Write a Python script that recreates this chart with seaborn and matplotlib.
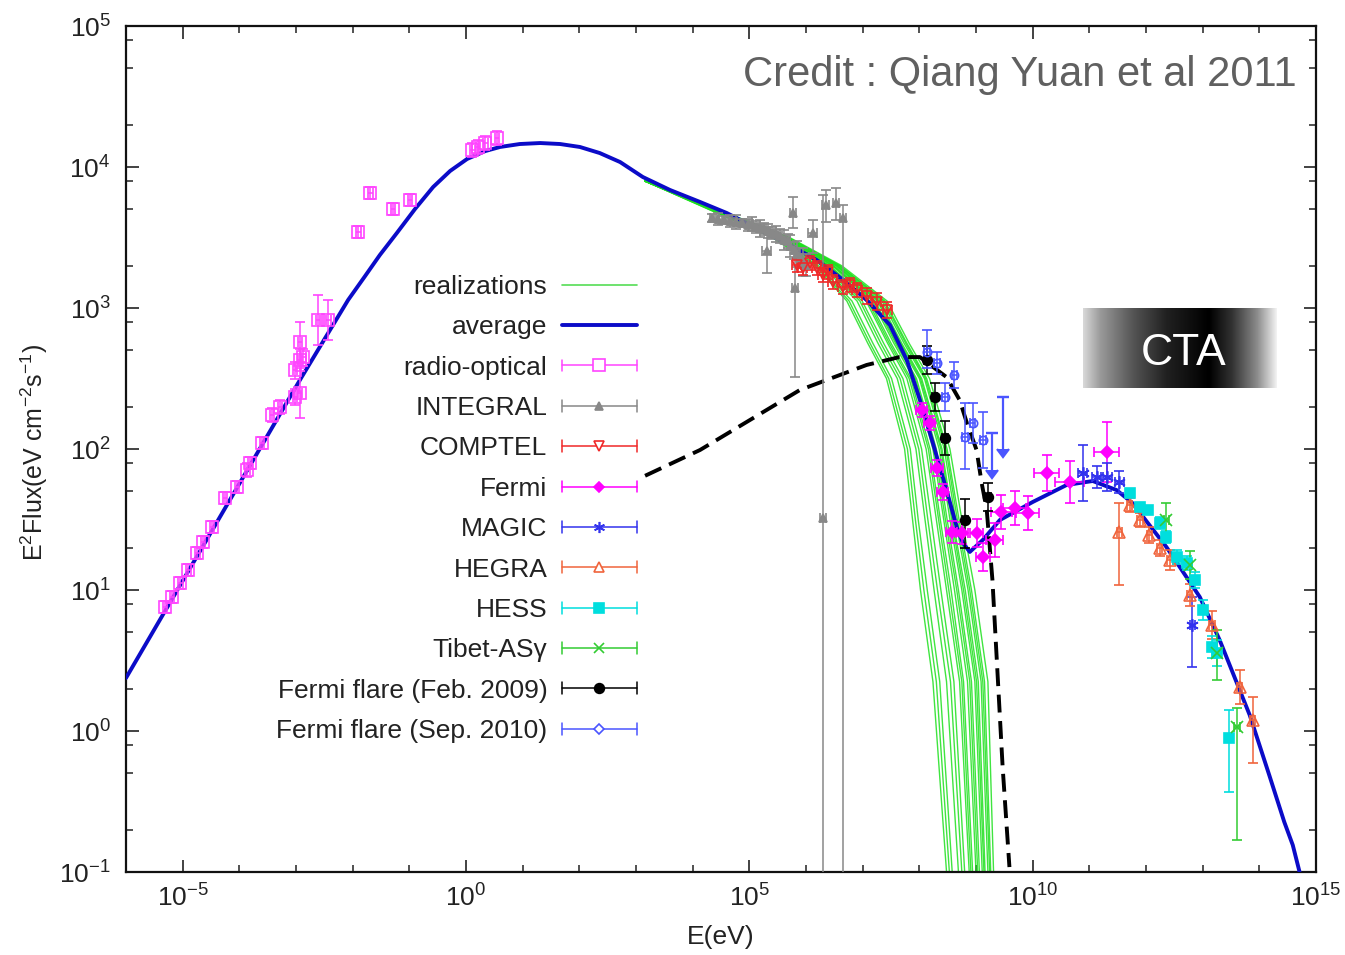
import numpy as np
import pandas as pd
import matplotlib
matplotlib.use('Agg')
import matplotlib.pyplot as plt
import seaborn as sns
from matplotlib.lines import Line2D
from matplotlib.legend_handler import HandlerBase
from matplotlib.ticker import FixedLocator, LogFormatterMathtext, NullFormatter

# all values are log10 E [eV] and log10 E^2 Flux [eV cm^-2 s^-1]

# average model
avg_logE = [-6.0, -4.99, -2.93, -2.40, -2.08, -1.78, -1.52, -1.22, -0.90, -0.58, -0.28, 0.02, 0.34,
            0.60, 0.95, 1.31, 1.66, 2.01, 2.36, 2.72, 3.12, 3.60, 4.13, 4.60, 5.19, 5.71, 6.19, 6.68,
            7.07, 7.48, 7.78, 8.01, 8.24, 8.48, 8.66, 8.77, 8.89, 9.12, 9.42, 10.0, 10.6, 11.06,
            11.48, 11.76, 12.36, 12.95, 13.30, 13.83, 14.18, 14.44, 14.59, 14.71]
avg_logF = [0.376, 1.072, 2.49, 2.844, 3.057, 3.227, 3.376, 3.532, 3.702, 3.858, 3.972, 4.057, 4.113,
            4.142, 4.163, 4.17, 4.163, 4.142, 4.099, 4.035, 3.929, 3.837, 3.752, 3.674, 3.553, 3.447,
            3.34, 3.191, 3.057, 2.88, 2.63, 2.348, 2.04, 1.709, 1.447, 1.333, 1.27, 1.355, 1.496,
            1.624, 1.745, 1.773, 1.709, 1.617, 1.305, 0.95, 0.645, 0.113, -0.319, -0.645, -0.809, -1.0]

# black dashed curve
dash_logE = [3.16, 4.13, 5.89, 7.07, 7.65, 8.01, 8.48, 8.71, 8.84, 9.01, 9.10, 9.19, 9.24, 9.29, 9.37, 9.47, 9.59]
dash_logF = [1.81, 1.993, 2.418, 2.596, 2.652, 2.652, 2.51, 2.348, 2.184, 1.993, 1.759, 1.567, 1.319,
             1.071, 0.482, -0.255, -0.965]

# realizations: log E of each run at fixed flux levels
real_level_logF = [3.9, 3.5, 3.3, 3.05, 2.75, 2.5, 2.0, 1.5, 1.0, 0.35, -1.0]
real_logE = [
    [3.16, 5.40, 6.16, 6.72, 7.09, 7.42, 7.74, 7.88, 8.02, 8.24, 8.48],
    [3.16, 5.42, 6.19, 6.76, 7.13, 7.46, 7.79, 7.93, 8.08, 8.30, 8.53],
    [3.16, 5.44, 6.22, 6.81, 7.18, 7.51, 7.84, 7.98, 8.14, 8.36, 8.58],
    [3.16, 5.48, 6.28, 6.90, 7.27, 7.61, 7.94, 8.10, 8.26, 8.48, 8.69],
    [3.16, 5.50, 6.31, 6.95, 7.32, 7.66, 7.99, 8.15, 8.32, 8.55, 8.75],
    [3.16, 5.52, 6.34, 6.99, 7.37, 7.71, 8.04, 8.21, 8.38, 8.61, 8.80],
    [3.16, 5.55, 6.39, 7.06, 7.44, 7.78, 8.12, 8.30, 8.48, 8.71, 8.88],
    [3.16, 5.56, 6.41, 7.09, 7.47, 7.82, 8.16, 8.34, 8.52, 8.75, 8.91],
    [3.16, 5.57, 6.42, 7.12, 7.50, 7.85, 8.19, 8.37, 8.56, 8.78, 8.94],
    [3.16, 5.60, 6.46, 7.17, 7.55, 7.90, 8.24, 8.43, 8.62, 8.85, 9.00],
    [3.16, 5.61, 6.48, 7.20, 7.58, 7.93, 8.27, 8.46, 8.66, 8.89, 9.03],
    [3.16, 5.62, 6.49, 7.22, 7.60, 7.95, 8.30, 8.49, 8.69, 8.92, 9.06],
    [3.16, 5.64, 6.52, 7.26, 7.64, 8.00, 8.35, 8.54, 8.75, 8.98, 9.11],
    [3.16, 5.65, 6.54, 7.28, 7.67, 8.02, 8.38, 8.57, 8.78, 9.01, 9.14],
    [3.16, 5.65, 6.55, 7.30, 7.69, 8.04, 8.40, 8.59, 8.81, 9.04, 9.16],
    [3.16, 5.67, 6.57, 7.34, 7.73, 8.09, 8.44, 8.64, 8.86, 9.09, 9.21],
    [3.16, 5.68, 6.59, 7.37, 7.76, 8.11, 8.47, 8.67, 8.89, 9.12, 9.24],
    [3.16, 5.69, 6.60, 7.39, 7.78, 8.13, 8.49, 8.70, 8.92, 9.15, 9.26],
    [3.16, 5.71, 6.63, 7.43, 7.82, 8.18, 8.54, 8.75, 8.98, 9.21, 9.31],
]

# radio-optical
radio_logE = [-5.31, -5.19, -5.04, -4.90, -4.74, -4.64, -4.48, -4.25, -4.04, -3.86, -3.81, -3.60, -3.42,
              -3.28, -3.02, -2.93, -3.02, -2.93, -2.87, -2.93, -2.61, -2.43, -1.90, -1.69, -1.29, -0.99,
              0.11, 0.21, 0.34, 0.55]
radio_logF = [0.879, 0.950, 1.050, 1.142, 1.262, 1.340, 1.447, 1.652, 1.730, 1.851, 1.901, 2.043, 2.241,
              2.298, 2.369, 2.397, 2.560, 2.631, 2.652, 2.759, 2.915, 2.915, 3.539, 3.816, 3.702, 3.766,
              4.121, 4.142, 4.170, 4.206]
radio_err = [0.04, 0.04, 0.04, 0.04, 0.04, 0.04, 0.04, 0.04, 0.04, 0.05, 0.04, 0.04, 0.05,
             0.05, 0.06, 0.18, 0.06, 0.08, 0.06, 0.14, 0.18, 0.14, 0.04, 0.04, 0.04, 0.04,
             0.05, 0.05, 0.05, 0.05]
radio_xerr = [0.04, 0.04, 0.04, 0.04, 0.04, 0.04, 0.04, 0.04, 0.04, 0.04, 0.04, 0.04, 0.04,
              0.04, 0.04, 0.04, 0.04, 0.04, 0.04, 0.04, 0.04, 0.04, 0.04, 0.04, 0.04, 0.04,
              0.04, 0.04, 0.04, 0.04]

# INTEGRAL
integral_logE = [4.34, 4.44, 4.55, 4.66, 4.76, 4.87, 4.97, 5.04, 5.12, 5.19, 5.26, 5.33, 5.40, 5.47,
                 5.54, 5.61, 5.68, 5.71, 5.79, 5.84, 5.89, 5.94, 6.00,
                 5.31, 5.77, 5.80, 6.12, 6.35, 6.53, 6.65, 6.30]
integral_logF = [3.638, 3.631, 3.624, 3.617, 3.610, 3.603, 3.589, 3.596, 3.574, 3.567, 3.560, 3.546,
                 3.532, 3.525, 3.511, 3.482, 3.475, 3.440, 3.411, 3.383, 3.355, 3.326, 3.305,
                 3.404, 3.674, 3.142, 3.532, 3.73, 3.745, 3.638, 1.511]
integral_lo = [0.03, 0.04, 0.03, 0.04, 0.05, 0.03, 0.04, 0.05, 0.04, 0.06, 0.04, 0.05, 0.04, 0.06,
               0.05, 0.07, 0.05, 0.08, 0.06, 0.09, 0.07, 0.10, 0.08,
               0.156, 0.107, 0.631, 0.142, 0.12, 0.121, 5.0, 4.0]
integral_hi = [0.03, 0.04, 0.03, 0.04, 0.05, 0.03, 0.04, 0.05, 0.04, 0.06, 0.04, 0.05, 0.04, 0.06,
               0.05, 0.07, 0.05, 0.08, 0.06, 0.09, 0.07, 0.10, 0.08,
               0.149, 0.113, 0.269, 0.092, 0.107, 0.106, 0.092, 2.29]
integral_xerr = [0.03, 0.03, 0.03, 0.03, 0.03, 0.03, 0.03, 0.03, 0.03, 0.03, 0.03, 0.03, 0.03, 0.03,
                 0.03, 0.03, 0.03, 0.03, 0.03, 0.03, 0.03, 0.03, 0.03,
                 0.08, 0.06, 0.05, 0.08, 0.06, 0.06, 0.05, 0.05]

# COMPTEL
comptel_logE = [5.84, 5.94, 6.07, 6.19, 6.30, 6.38, 6.47, 6.65, 6.77, 6.90, 7.07, 7.25, 7.43]
comptel_logF = [3.305, 3.284, 3.319, 3.284, 3.234, 3.255, 3.184, 3.149, 3.163, 3.128, 3.085, 3.043, 2.986]
comptel_err = [0.05, 0.05, 0.05, 0.05, 0.05, 0.05, 0.05, 0.05, 0.05, 0.05, 0.06, 0.06, 0.06]
comptel_xerr = [0.08, 0.08, 0.08, 0.08, 0.08, 0.08, 0.08, 0.08, 0.08, 0.08, 0.08, 0.08, 0.08]

# Fermi
fermi_logE = [8.04, 8.18, 8.31, 8.41, 8.57, 8.75, 9.01, 9.12, 9.33, 9.45, 9.68, 9.91, 10.25, 10.65, 11.31]
fermi_logF = [2.277, 2.184, 1.865, 1.695, 1.411, 1.404, 1.404, 1.234, 1.355, 1.553, 1.582, 1.546, 1.83,
              1.766, 1.979]
fermi_err = [0.05, 0.05, 0.06, 0.06, 0.08, 0.08, 0.10, 0.10, 0.12, 0.12, 0.12, 0.12, 0.13, 0.15, 0.21]
fermi_xerr = [0.1, 0.1, 0.1, 0.1, 0.1, 0.1, 0.12, 0.12, 0.15, 0.18, 0.2, 0.2, 0.22, 0.25, 0.22]

# MAGIC
magic_logE = [10.88, 11.13, 11.32, 11.53, 12.82]
magic_logF = [1.83, 1.80, 1.80, 1.766, 0.752]
magic_lo = [0.2, 0.08, 0.1, 0.08, 0.3]
magic_hi = [0.2, 0.08, 0.1, 0.08, 0.2]
magic_xerr = [0.08, 0.08, 0.08, 0.08, 0.05]

# HEGRA
hegra_logE = [11.53, 11.71, 11.89, 12.06, 12.24, 12.42, 12.77, 13.17, 13.65, 13.88]
hegra_logF = [1.411, 1.603, 1.496, 1.39, 1.298, 1.213, 0.965, 0.752, 0.312, 0.078]
hegra_lo = [0.376, 0.05, 0.05, 0.06, 0.06, 0.07, 0.08, 0.1, 0.12, 0.305]
hegra_hi = [0.206, 0.05, 0.05, 0.06, 0.06, 0.07, 0.08, 0.1, 0.12, 0.163]
hegra_xerr = [0.05, 0.05, 0.05, 0.05, 0.05, 0.05, 0.05, 0.05, 0.05, 0.05]

# HESS
hess_logE = [11.71, 11.89, 12.03, 12.24, 12.36, 12.54, 12.72, 12.86, 13.0, 13.16, 13.26, 13.47]
hess_logF = [1.688, 1.589, 1.567, 1.475, 1.376, 1.234, 1.191, 1.071, 0.858, 0.596, 0.553, -0.05]
hess_lo = [0.03, 0.03, 0.03, 0.04, 0.04, 0.05, 0.05, 0.06, 0.07, 0.08, 0.09, 0.383]
hess_hi = [0.03, 0.03, 0.03, 0.04, 0.04, 0.05, 0.05, 0.06, 0.07, 0.08, 0.09, 0.199]
hess_xerr = [0.04, 0.04, 0.04, 0.04, 0.04, 0.04, 0.04, 0.04, 0.04, 0.04, 0.04, 0.04]

# Tibet-ASgamma
tibet_logE = [12.36, 12.77, 13.26, 13.60]
tibet_logF = [1.496, 1.177, 0.553, 0.028]
tibet_lo = [0.12, 0.1, 0.191, 0.801]
tibet_hi = [0.12, 0.1, 0.163, 0.135]
tibet_xerr = [0.05, 0.05, 0.05, 0.05]

# Fermi flare (Feb. 2009)
feb_logE = [8.13, 8.27, 8.45, 8.80, 9.21]
feb_logF = [2.631, 2.369, 2.078, 1.496, 1.66]
feb_lo = [0.1, 0.1, 0.12, 0.2, 0.1]
feb_hi = [0.1, 0.1, 0.12, 0.15, 0.1]
feb_xerr = [0.05, 0.05, 0.05, 0.05, 0.05]

# Fermi flare (Sep. 2010)
sep_logE = [8.13, 8.31, 8.45, 8.62, 8.80, 8.94, 9.12]
sep_logF = [2.688, 2.61, 2.369, 2.525, 2.085, 2.184, 2.064]
sep_lo = [0.114, 0.08, 0.1, 0.09, 0.23, 0.14, 0.2]
sep_hi = [0.156, 0.08, 0.1, 0.09, 0.24, 0.14, 0.2]
sep_xerr = [0.05, 0.05, 0.05, 0.05, 0.05, 0.05, 0.05]
sep_ul_logE = [9.29, 9.47]
sep_ul_logF = [2.113, 2.369]
sep_ul_len = [0.26, 0.37]

legend_labels = ['realizations', 'average', 'radio-optical', 'INTEGRAL', 'COMPTEL', 'Fermi', 'MAGIC',
                 'HEGRA', 'HESS', 'Tibet-AS\u03b3', 'Fermi flare (Feb. 2009)', 'Fermi flare (Sep. 2010)']

x_major = [1e-5, 1e0, 1e5, 1e10, 1e15]
y_major = [1e-1, 1e0, 1e1, 1e2, 1e3, 1e4, 1e5]


def to_lin(logE, logF, lo, hi, xe):
    lx, ly = np.asarray(logE, float), np.asarray(logF, float)
    E, F = 10.0 ** lx, 10.0 ** ly
    yerr = [F - 10.0 ** (ly - np.asarray(lo)), 10.0 ** (ly + np.asarray(hi)) - F]
    xerr = [E - 10.0 ** (lx - np.asarray(xe)), 10.0 ** (lx + np.asarray(xe)) - E]
    return E, F, xerr, yerr


def draw_set(ax, logE, logF, lo, hi, xe, color, marker, ms, mfc, mew=1.2, z=5):
    E, F, xerr, yerr = to_lin(logE, logF, lo, hi, xe)
    ax.errorbar(E, F, xerr=xerr, yerr=yerr, fmt='', marker=marker, ls='none', color=color, ms=ms,
                mfc=mfc, mec=color, mew=mew, elinewidth=1.1, capsize=3.5, capthick=1.1, zorder=z)


class ErrProxy(Line2D):
    pass


class GnuplotErrHandler(HandlerBase):
    # horizontal bar with end caps and the marker in the middle
    def create_artists(self, legend, orig_handle, xdescent, ydescent, width, height, fontsize, trans):
        x0, x1 = -xdescent, width - xdescent
        yc = (height - ydescent) / 2.0
        c = orig_handle.get_color()
        half = 0.32 * height
        bar = Line2D([x0, x1], [yc, yc], color=c, lw=1.1)
        cap_l = Line2D([x0, x0], [yc - half, yc + half], color=c, lw=1.1)
        cap_r = Line2D([x1, x1], [yc - half, yc + half], color=c, lw=1.1)
        mk = Line2D([(x0 + x1) / 2.0], [yc], ls='none', marker=orig_handle.get_marker(),
                    ms=orig_handle.get_markersize(), mfc=orig_handle.get_markerfacecolor(),
                    mec=orig_handle.get_markeredgecolor(), mew=orig_handle.get_markeredgewidth())
        arts = [bar, cap_l, cap_r, mk]
        for a in arts:
            a.set_transform(trans)
        return arts


sns.set_theme(style='ticks')
plt.rcParams['font.family'] = ['Liberation Sans', 'DejaVu Sans']
plt.rcParams['mathtext.fontset'] = 'custom'
plt.rcParams['mathtext.rm'] = 'Liberation Sans'
plt.rcParams['mathtext.it'] = 'Liberation Sans:italic'
plt.rcParams['mathtext.bf'] = 'Liberation Sans:bold'

fig = plt.figure(figsize=(13.45, 9.55), dpi=100)
ax = fig.add_axes([126 / 1345, 1 - 872 / 955, 1190 / 1345, 846 / 955])
ax.set_xscale('log')
ax.set_yscale('log')

# colours
c_green = '#1ee01e'
c_blue = '#0b0bc8'
c_radio = '#ff44ff'
c_integral = '#888888'
c_comptel = '#f02828'
c_fermi = '#ff00ff'
c_magic = '#3333ee'
c_hegra = '#f0643c'
c_hess = '#00dede'
c_tibet = '#33cc33'
c_feb = '#000000'
c_sep = '#4a55ff'

# realizations
rows = []
for run, row in enumerate(real_logE):
    for le, lf in zip(row, real_level_logF):
        rows.append({'run': run, 'E': 10.0 ** le, 'F': 10.0 ** lf})
df_real = pd.DataFrame(rows)
sns.lineplot(data=df_real, x='E', y='F', units='run', estimator=None, sort=False,
             color=c_green, lw=1.0, alpha=0.85, ax=ax, legend=False, zorder=2)

# average
df_avg = pd.DataFrame({'E': 10.0 ** np.array(avg_logE), 'F': 10.0 ** np.array(avg_logF)})
sns.lineplot(data=df_avg, x='E', y='F', sort=False, estimator=None, color=c_blue, lw=2.8, ax=ax, zorder=3)

# dashed
ax.plot(10.0 ** np.array(dash_logE), 10.0 ** np.array(dash_logF), color='black', lw=2.8,
        dashes=(4.6, 2.2), zorder=3.5)

# data sets
draw_set(ax, radio_logE, radio_logF, radio_err, radio_err, radio_xerr, c_radio, 's', 8.5, 'none')
draw_set(ax, integral_logE, integral_logF, integral_lo, integral_hi, integral_xerr, c_integral, '^', 6, c_integral)
draw_set(ax, comptel_logE, comptel_logF, comptel_err, comptel_err, comptel_xerr, c_comptel, 'v', 7, 'none')
draw_set(ax, fermi_logE, fermi_logF, fermi_err, fermi_err, fermi_xerr, c_fermi, 'D', 6.5, c_fermi)
draw_set(ax, magic_logE, magic_logF, magic_lo, magic_hi, magic_xerr, c_magic, (6, 2, 0), 9, c_magic)
draw_set(ax, hegra_logE, hegra_logF, hegra_lo, hegra_hi, hegra_xerr, c_hegra, '^', 8, 'none')
draw_set(ax, hess_logE, hess_logF, hess_lo, hess_hi, hess_xerr, c_hess, 's', 7, c_hess)
draw_set(ax, tibet_logE, tibet_logF, tibet_lo, tibet_hi, tibet_xerr, c_tibet, 'x', 8, c_tibet)
draw_set(ax, feb_logE, feb_logF, feb_lo, feb_hi, feb_xerr, c_feb, 'o', 7, c_feb)
draw_set(ax, sep_logE, sep_logF, sep_lo, sep_hi, sep_xerr, c_sep, 'o', 6, 'none')

# upper limits of the Sep. 2010 flare
ul_E = 10.0 ** np.array(sep_ul_logE)
ul_F = 10.0 ** np.array(sep_ul_logF)
ul_len = ul_F - 10.0 ** (np.array(sep_ul_logF) - np.array(sep_ul_len))
ax.errorbar(ul_E, ul_F, yerr=[ul_len, np.zeros_like(ul_len)], uplims=True, fmt='', marker='_', ls='none',
            ms=8, color=c_sep, elinewidth=1.6, capsize=4, mew=1.6, zorder=5)

ax.set_xlim(1e-6, 1e15)
ax.set_ylim(1e-1, 1e5)

# ticks, gnuplot style (only positions inside the frame)
ax.xaxis.set_major_locator(FixedLocator(x_major))
ax.xaxis.set_major_formatter(LogFormatterMathtext())
ax.xaxis.set_minor_locator(FixedLocator([10.0 ** k for k in range(-6, 16)]))
ax.xaxis.set_minor_formatter(NullFormatter())
ax.yaxis.set_major_locator(FixedLocator(y_major))
ax.yaxis.set_major_formatter(LogFormatterMathtext())
ax.yaxis.set_minor_locator(FixedLocator([m * 10.0 ** k for k in range(-1, 5) for m in (2, 5, 8)]))
ax.yaxis.set_minor_formatter(NullFormatter())
ax.tick_params(which='both', direction='in', top=True, right=True, colors='#222222', labelsize=19)
ax.tick_params(which='major', length=9, width=1.2)
ax.tick_params(which='minor', length=5, width=1.1)
ax.tick_params(axis='x', which='major', pad=9)
ax.tick_params(axis='y', which='major', pad=11)
for s in ax.spines.values():
    s.set_color('#111111')
    s.set_linewidth(1.6)

ax.set_xlabel('E(eV)', fontsize=19, color='#222222')
ax.set_ylabel('E$^2$Flux(eV cm$^{-2}$s$^{-1}$)', fontsize=18, color='#222222')
ax.xaxis.set_label_coords(0.5, -0.063)
ax.yaxis.set_label_coords(-0.064, 0.496)

# legend
handles = [Line2D([], [], color='#55dd55', lw=1.2), Line2D([], [], color=c_blue, lw=2.8)]
proxy_specs = [(c_radio, 's', 8, 'white'), (c_integral, '^', 6, c_integral), (c_comptel, 'v', 7, 'white'),
               (c_fermi, 'D', 5, c_fermi), (c_magic, (6, 2, 0), 8, c_magic), (c_hegra, '^', 7, 'white'),
               (c_hess, 's', 7, c_hess), (c_tibet, 'x', 7, c_tibet), (c_feb, 'o', 7, c_feb),
               (c_sep, 'D', 5, 'white')]
for col, mk, ms, fc in proxy_specs:
    handles.append(ErrProxy([], [], color=col, marker=mk, ms=ms, mfc=fc, mec=col, mew=1.2))
leg = ax.legend(handles=handles, labels=legend_labels, handler_map={ErrProxy: GnuplotErrHandler()},
                loc='upper right', bbox_to_anchor=((637 - 126) / 1190, (872 - 275) / 846),
                markerfirst=False, frameon=False, fontsize=19, handlelength=2.85, handleheight=0.7,
                handletextpad=0.55, labelspacing=0.62, borderpad=0, borderaxespad=0)
for t in leg.get_texts():
    t.set_color('#222222')

# credit
ax.text((1297 - 126) / 1190, (872 - 75) / 846, 'Credit : Qiang Yuan et al 2011', transform=ax.transAxes,
        ha='right', va='center', fontsize=30, color='#606060', zorder=6)

# CTA box with horizontal gradient
cta_ax = fig.add_axes([1083 / 1345, 1 - 388 / 955, 194 / 1345, 80 / 955])
stop_pos = [0.0, 0.09, 0.26, 0.43, 0.65, 0.77, 0.90, 1.0]
stop_val = [0.85, 0.6, 0.33, 0.13, 0.0, 0.2, 0.55, 0.95]
grad = np.interp(np.linspace(0, 1, 400), stop_pos, stop_val)
cta_ax.imshow(grad[None, :], aspect='auto', cmap='gray', vmin=0, vmax=1, extent=(0, 1, 0, 1))
cta_ax.axis('off')
cta_ax.text(0.52, 0.43, 'CTA', color='white', fontsize=32, ha='center', va='center')

fig.savefig('out.png', dpi=100)
